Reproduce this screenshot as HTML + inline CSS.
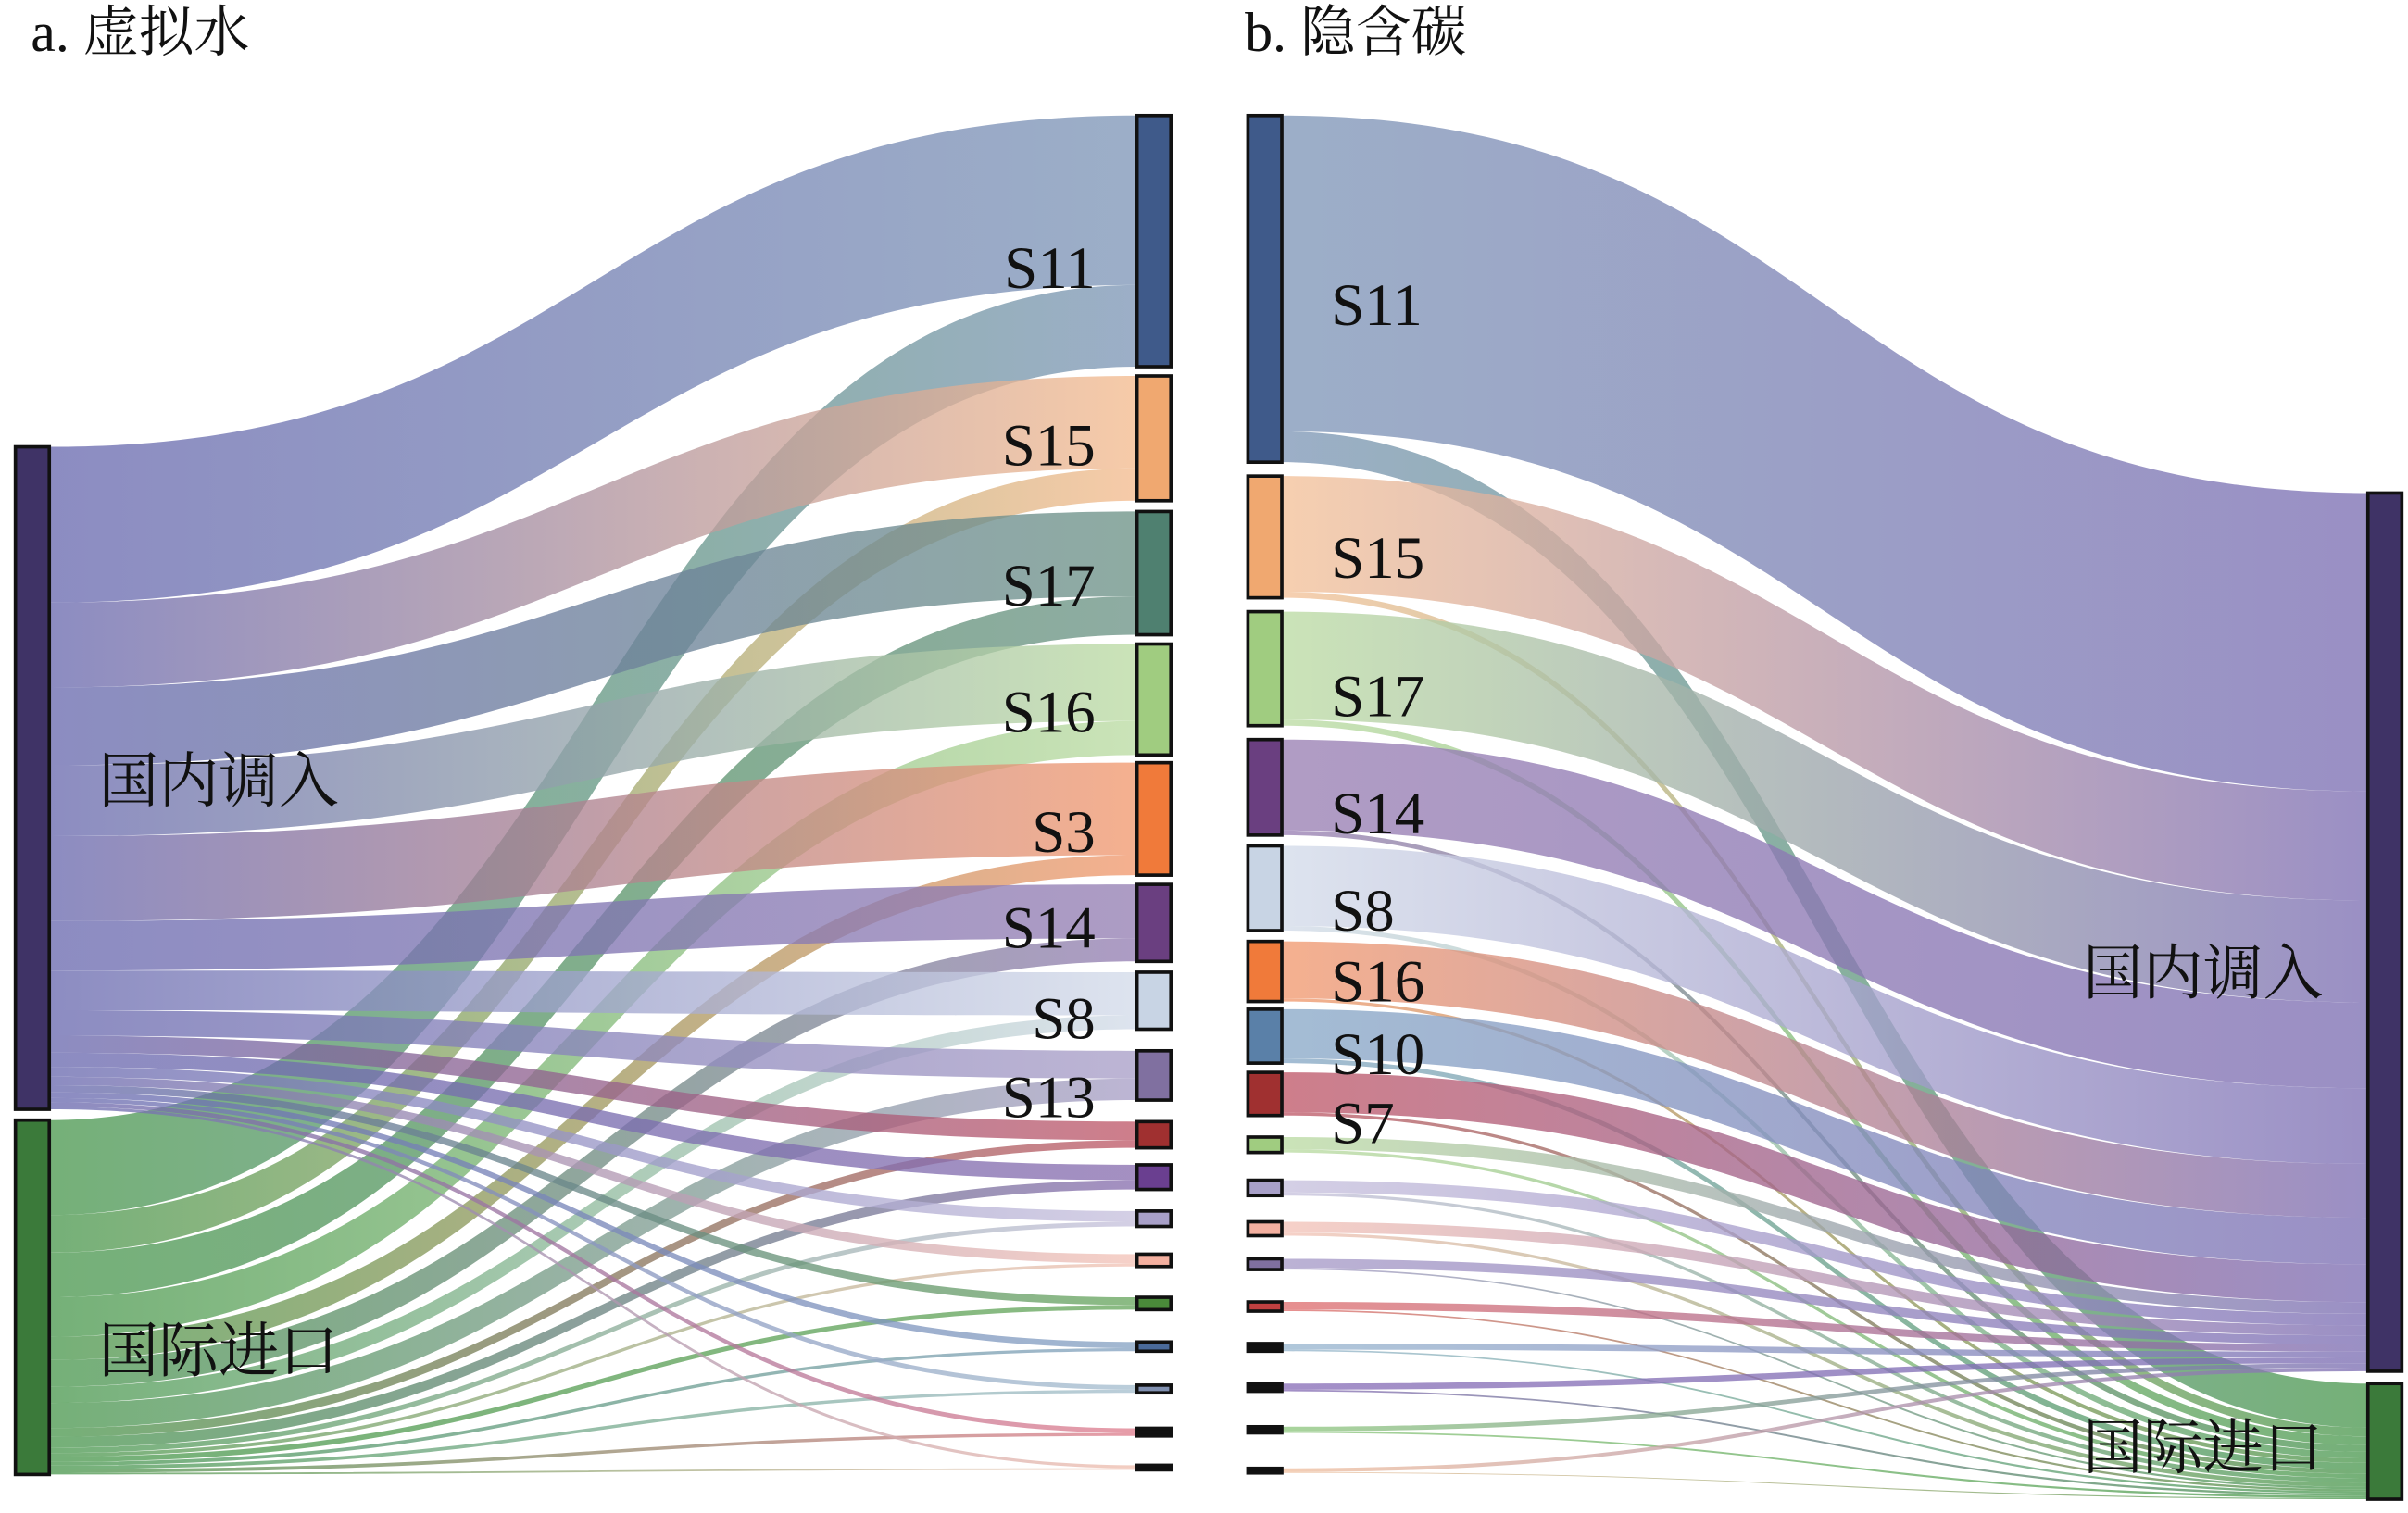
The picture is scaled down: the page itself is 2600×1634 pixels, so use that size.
<!DOCTYPE html>
<html><head><meta charset="utf-8">
<style>
html,body{margin:0;padding:0;background:#fff;}
svg{display:block;}
text{font-family:"Liberation Serif","Noto Serif CJK SC","Noto Sans CJK SC",serif;fill:#111;}
</style></head>
<body>
<svg id="s" width="2600" height="1634" viewBox="0 0 1563 982" preserveAspectRatio="none" xmlns="http://www.w3.org/2000/svg">
<defs id="d"></defs>
<g id="links"></g>
<g id="nodes"></g>
<g id="labels">
<text x="20" y="33" font-size="36">a. 虚拟水</text>
<text x="808" y="33" font-size="36">b. 隐含碳</text>
<g font-size="39" text-anchor="end">
<text x="711" y="187">S11</text>
<text x="711" y="302">S15</text>
<text x="711" y="393">S17</text>
<text x="711" y="475">S16</text>
<text x="711" y="553">S3</text>
<text x="711" y="615">S14</text>
<text x="711" y="674">S8</text>
<text x="711" y="725">S13</text>
</g>
<g font-size="39">
<text x="864" y="211">S11</text>
<text x="864" y="375">S15</text>
<text x="864" y="465">S17</text>
<text x="864" y="541">S14</text>
<text x="864" y="604">S8</text>
<text x="864" y="650">S16</text>
<text x="864" y="697">S10</text>
<text x="864" y="742">S7</text>
</g>
<g font-size="39">
<text x="64" y="520">国内调入</text>
<text x="64" y="890">国际进口</text>
<text x="1352" y="645">国内调入</text>
<text x="1352" y="953">国际进口</text>
</g>
</g>
</svg>
<script>
var NS="http://www.w3.org/2000/svg";
var L=document.getElementById('links'),N=document.getElementById('nodes'),D=document.getElementById('d');
var gid=0;
function el(t,a,p){var e=document.createElementNS(NS,t);for(var k in a)e.setAttribute(k,a[k]);p.appendChild(e);return e;}
function node(x,y0,y1,c){el('rect',{x:x,y:y0,width:22,height:y1-y0,fill:c,stroke:'#111','stroke-width':2.2},N);}
function link(x0,a0,a1,x1,b0,b1,c0,c1){
 var id='g'+(gid++);var g=el('linearGradient',{id:id,gradientUnits:'userSpaceOnUse',x1:x0,y1:0,x2:x1,y2:0},D);
 el('stop',{offset:0,'stop-color':c0},g);el('stop',{offset:1,'stop-color':c1},g);
 var m=(x0+x1)/2;
 var d='M'+x0+','+a0+' C'+m+','+a0+' '+m+','+b0+' '+x1+','+b0+' L'+x1+','+b1+' C'+m+','+b1+' '+m+','+a1+' '+x0+','+a1+' Z';
 el('path',{d:d,fill:'url(#'+id+')','fill-opacity':0.78},L);
}
var A=[[75,238,'#3f5a8a',110,'#8098b8'],[244,325,'#f0a870',60,'#f4bc90'],[332,412,'#4f8070',55,'#6e9488'],[418,490,'#a0cc80',50,'#bcdca4'],[495,568,'#f07a3a',60,'#f29a70'],[574,624,'#6a3f80',35,'#9680b4'],[631,668,'#c8d4e4',28,'#d4dcea'],[682,714,'#8070a0',18,'#aaa0c8'],[728,745,'#a03030',12,'#c05a6a'],[756,772,'#6a3f90',10,'#8a70b0'],[786,796,'#a8a0c8',7,'#c8c2de'],[814,822,'#f4b0a0',6,'#f4c4b8'],[842,850,'#4a8a3a',5,'#6aa860'],[871,877,'#4a6a9a',4,'#88a4c4'],[899,904,'#8090b0',3,'#a8c0d0'],[927,932,'#111',3,'#e08090'],[951,954,'#111',2,'#f0c0b0']];
var sd=0,si=0;A.forEach(function(r){sd+=r[3];si+=(r[1]-r[0])-r[3];});
var kd=430/sd,ki=230/si,yd=290,yi=727;
A.forEach(function(r){var h=r[1]-r[0];var tm=r[0]+r[3];
 var wd=r[3]*kd,wi=(h-r[3])*ki;
 link(33,yd,yd+wd,738,r[0],tm,'#6c6cb0',r[4]);yd+=wd;
 if(wi>0.01)link(33,yi,yi+wi,738,tm,r[1],'#4e9a52',r[4]);yi+=wi;});
A.forEach(function(r){node(738,r[0],r[1],r[2]);});
node(10,290,720,'#3f3366');node(10,727,957,'#3b7a3a');
var B=[[75,300,'#3f5a8a',205,'#8098b8'],[309,388,'#f0a870',75,'#f4c29a'],[397,471,'#a0cc80',70,'#bcdca4'],[480,542,'#6a3f80',59,'#9a80b4'],[549,604,'#c8d4e4',52,'#d4dcea'],[611,650,'#f07a3a',37,'#f29a70'],[655,690,'#5a80a8',32,'#8aaac8'],[696,724,'#a03030',26,'#c05a6a'],[738,748,'#a0cc80',8,'#bcdca4'],[766,776,'#a8a0c8',8,'#c8c2de'],[793,802,'#f4b0a0',7,'#f4c4b8'],[817,824,'#8070a0',6,'#a89cc8'],[845,851,'#c04040',5,'#e07070'],[872,877,'#111',4,'#9ab8d0'],[898,903,'#111',4,'#8a70b8'],[926,930,'#111',3,'#90c880'],[953,956,'#111',2.5,'#f0c0a0']];
sd=0;si=0;B.forEach(function(r){sd+=r[3];si+=(r[1]-r[0])-r[3];});
kd=570/sd;ki=75/si;yd=320;yi=898;
B.forEach(function(r){var h=r[1]-r[0],tm=r[0]+r[3];var wd=r[3]*kd,wi=(h-r[3])*ki;
 link(832,r[0],tm,1537,yd,yd+wd,r[4],'#7e70b4');yd+=wd;
 link(832,tm,r[1],1537,yi,yi+wi,r[4],'#4e9a52');yi+=wi;});
B.forEach(function(r){node(810,r[0],r[1],r[2]);});
node(1537,320,890,'#3f3366');node(1537,898,973,'#3b7a3a');
</script>
</body></html>
